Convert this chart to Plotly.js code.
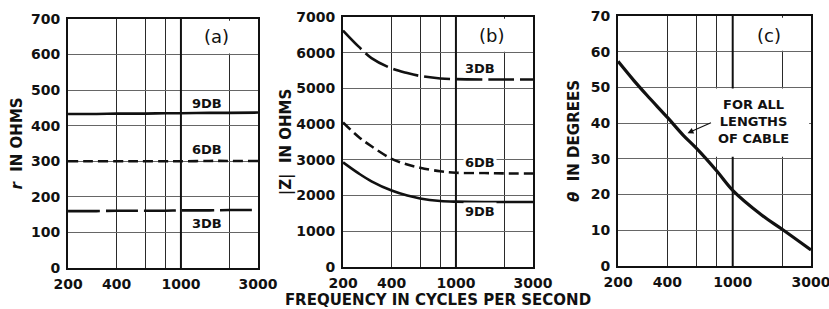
<!DOCTYPE html>
<html>
<head>
<meta charset="utf-8">
<script src="https://cdn.plot.ly/plotly-3.0.1.min.js"></script>
<style>
  html, body { margin: 0; padding: 0; background: #fff; }
  #chart { width: 829px; height: 309px; }
</style>
</head>
<body>
<div id="chart"></div>
<script>
// ---- data ----
const freq = [200, 250, 300, 400, 500, 600, 800, 1000, 1500, 2000, 3000];

// (a) resistance r in ohms
const r9db = [433, 433, 433, 434, 434, 434, 435, 435, 436, 436, 437];
const r6db = [300, 300, 300, 300, 300, 300, 300, 300, 301, 301, 301];
const r3db = [160, 160, 160, 161, 161, 161, 161, 162, 162, 163, 163];

// (b) |Z| in ohms
const z3db = [6620, 6170, 5850, 5560, 5430, 5350, 5280, 5260, 5250, 5250, 5250];
const z6db = [4050, 3640, 3380, 3030, 2870, 2780, 2680, 2640, 2630, 2620, 2620];
const z9db = [2930, 2620, 2400, 2140, 2000, 1920, 1850, 1830, 1820, 1820, 1820];

// (c) theta in degrees
const theta = [57.3, 51.9, 47.8, 41.6, 36.6, 33.0, 26.6, 21.2, 14.3, 10.3, 4.5];

const xTickVals = [200, 400, 600, 800, 1000, 2000, 3000];
const xTickText = ['200', '400', '', '', '1000', '', '3000'];

const panelLabels = ['(a)', '(b)', '(c)'];
const curveLabels = ['3DB', '6DB', '9DB'];
const yTitles = ['<i>r</i>  IN OHMS', '|Z|  IN OHMS', '<i>θ</i>  IN DEGREES'];
const xTitle = 'FREQUENCY IN CYCLES PER SECOND';
const noteText = 'FOR ALL<br>LENGTHS<br>OF CABLE';

// ---- layout helpers ----
const W = 829, H = 309;
const hd = (a, b) => [a / W, b / W];
const vd = (top, bottom) => [(H - bottom) / H, (H - top) / H];
const FONT = 'DejaVu Sans, Liberation Sans, sans-serif';
const INK = '#111';
const L = Math.log10;
const tickFont = { family: FONT, size: 14, color: INK, weight: 'bold' };
const titleFont = { family: FONT, size: 15, color: INK, weight: 'bold' };

function xAxis(domain, anchor) {
  return {
    domain: domain, anchor: anchor, type: 'log',
    range: [L(199.9), L(3000.5)],
    tickmode: 'array', tickvals: xTickVals, ticktext: xTickText,
    showgrid: true, gridcolor: '#2a2a2a', gridwidth: 1,
    showline: true, linecolor: INK, linewidth: 2, mirror: true,
    ticks: '', zeroline: false, fixedrange: true,
    ticklabelstandoff: 2, ticklabeloverflow: 'allow',
    tickfont: tickFont
  };
}
function yAxis(domain, anchor, range, dtick, title, standoff) {
  return {
    domain: domain, anchor: anchor, range: range, dtick: dtick, tick0: 0,
    showgrid: true, gridcolor: '#666', gridwidth: 1,
    showline: true, linecolor: INK, linewidth: 2, mirror: true,
    ticks: '', zeroline: false, fixedrange: true,
    ticklabelstandoff: 3,
    tickfont: tickFont,
    title: { text: title, standoff: standoff, font: titleFont }
  };
}

const solid = { color: INK, width: 2.6, dash: 'solid', shape: 'spline', smoothing: 1 };
const shortDash = { color: INK, width: 2.6, dash: '10px,5px', shape: 'spline', smoothing: 1 };
const longDash = { color: INK, width: 2.6, dash: '32px,6px', shape: 'spline', smoothing: 1 };

const traces = [
  { x: freq, y: r9db, xaxis: 'x', yaxis: 'y', mode: 'lines', line: solid, name: '9DB' },
  { x: freq, y: r6db, xaxis: 'x', yaxis: 'y', mode: 'lines', line: shortDash, name: '6DB' },
  { x: freq, y: r3db, xaxis: 'x', yaxis: 'y', mode: 'lines', line: longDash, name: '3DB' },
  { x: freq, y: z3db, xaxis: 'x2', yaxis: 'y2', mode: 'lines', line: Object.assign({}, longDash, { dash: '26px,6px' }), name: '3DB' },
  { x: freq, y: z6db, xaxis: 'x2', yaxis: 'y2', mode: 'lines', line: shortDash, name: '6DB' },
  { x: freq, y: z9db, xaxis: 'x2', yaxis: 'y2', mode: 'lines', line: solid, name: '9DB' },
  { x: freq, y: theta, xaxis: 'x3', yaxis: 'y3', mode: 'lines', line: Object.assign({}, solid, { width: 3.2 }), name: 'theta' }
];

function whiteBox(xr, yr, x0, x1, y0, y1) {
  return { type: 'rect', xref: xr, yref: yr, x0: x0, x1: x1, y0: y0, y1: y1,
           fillcolor: '#ffffff', opacity: 1, line: { width: 0 }, layer: 'above' };
}
function thickGrid(xr, yr, y0, y1) {
  return { type: 'line', xref: xr, yref: yr, x0: 1000, x1: 1000, y0: y0, y1: y1,
           line: { color: INK, width: 2 }, layer: 'above' };
}

const shapes = [
  thickGrid('x', 'y', 0, 700),
  thickGrid('x2', 'y2', 0, 7000),
  thickGrid('x3', 'y3', 0, 70),
  whiteBox('x', 'y', 1018, 2920, 603, 695),
  whiteBox('x2', 'y2', 1018, 2920, 6030, 6950),
  whiteBox('x3', 'y3', 1018, 2920, 60.3, 69.5),
  whiteBox('x3', 'y3', 725, 2920, 30.6, 49.7)
];

function lbl(xr, yr, x, y, text, size, bg, bold) {
  return { xref: xr, yref: yr, x: L(x), y: y, text: text, showarrow: false,
           font: { family: FONT, size: size, color: INK, weight: bold ? 'bold' : 'normal' },
           bgcolor: bg ? '#fff' : 'rgba(0,0,0,0)', borderpad: 1 };
}

const annotations = [
  lbl('x', 'y', 1660, 652, panelLabels[0], 18),
  lbl('x2', 'y2', 1660, 6496, panelLabels[1], 18),
  lbl('x3', 'y3', 1655, 64.6, panelLabels[2], 18),
  lbl('x', 'y', 1450, 463, curveLabels[2], 13, false, true),
  lbl('x', 'y', 1450, 333, curveLabels[1], 13, false, true),
  lbl('x', 'y', 1450, 126, curveLabels[0], 13, false, true),
  lbl('x2', 'y2', 1410, 5564, curveLabels[0], 13, true, true),
  lbl('x2', 'y2', 1410, 2920, curveLabels[1], 13, true, true),
  lbl('x2', 'y2', 1410, 1548, curveLabels[2], 13, true, true),
  lbl('x3', 'y3', 1330, 40.6, noteText, 13, false, true),
  { xref: 'x3', yref: 'y3', x: L(530), y: 37.2, text: '', showarrow: true,
    ax: 25, ay: -11, arrowhead: 2, arrowsize: 1, arrowwidth: 1.2, arrowcolor: INK, standoff: 0 }
];

const layout = {
  width: W, height: H,
  margin: { l: 0, r: 0, t: 0, b: 0 },
  paper_bgcolor: '#fff', plot_bgcolor: '#fff',
  showlegend: false,
  xaxis: xAxis(hd(68, 258), 'y'),
  yaxis: yAxis(vd(19, 268), 'x', [0, 700], 100, yTitles[0], 5),
  xaxis2: Object.assign(xAxis(hd(343, 533), 'y2'),
    { title: { text: xTitle, standoff: 5, font: titleFont } }),
  yaxis2: yAxis(vd(17, 267), 'x2', [0, 7000], 1000, yTitles[1], 1),
  xaxis3: xAxis(hd(618, 811), 'y3'),
  yaxis3: yAxis(vd(16, 266), 'x3', [0, 70], 10, yTitles[2], 7),
  shapes: shapes,
  annotations: annotations
};

Plotly.newPlot('chart', traces, layout, { staticPlot: true, displayModeBar: false });
</script>
</body>
</html>
